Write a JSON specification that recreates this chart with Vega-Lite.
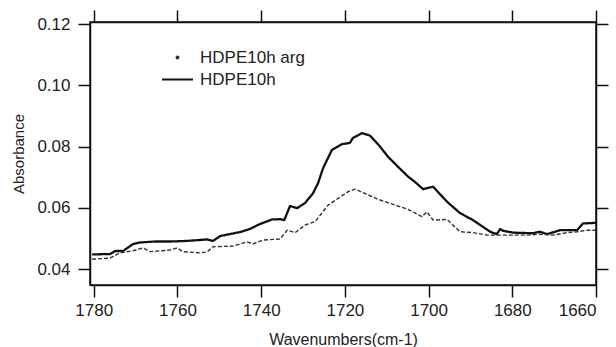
{
  "$schema": "https://vega.github.io/schema/vega-lite/v6.json",
  "width": 506,
  "height": 263,
  "autosize": {"type": "none"},
  "padding": {"left": 90, "top": 22, "right": 20, "bottom": 62},
  "background": "white",
  "config": {
    "view": {"stroke": "#111", "strokeWidth": 1.5},
    "font": "Liberation Sans",
    "axis": {
      "labelFont": "Liberation Sans",
      "titleFont": "Liberation Sans",
      "labelFontSize": 17,
      "titleFontSize": 16,
      "titleFontWeight": "normal",
      "labelColor": "#222",
      "titleColor": "#222",
      "domainColor": "#111",
      "tickColor": "#111",
      "domainWidth": 1.5,
      "tickWidth": 1.5,
      "tickSize": 12,
      "grid": false
    }
  },
  "data": {
    "values": [
      {"w": 1780.4, "a": 0.0448, "s": "HDPE10h"},
      {"w": 1776.1, "a": 0.0449, "s": "HDPE10h"},
      {"w": 1774.9, "a": 0.0459, "s": "HDPE10h"},
      {"w": 1773.0, "a": 0.0459, "s": "HDPE10h"},
      {"w": 1770.6, "a": 0.0482, "s": "HDPE10h"},
      {"w": 1768.9, "a": 0.0487, "s": "HDPE10h"},
      {"w": 1765.4, "a": 0.0490, "s": "HDPE10h"},
      {"w": 1761.8, "a": 0.0490, "s": "HDPE10h"},
      {"w": 1757.7, "a": 0.0492, "s": "HDPE10h"},
      {"w": 1754.6, "a": 0.0495, "s": "HDPE10h"},
      {"w": 1752.9, "a": 0.0497, "s": "HDPE10h"},
      {"w": 1751.5, "a": 0.0492, "s": "HDPE10h"},
      {"w": 1749.8, "a": 0.0508, "s": "HDPE10h"},
      {"w": 1745.0, "a": 0.0521, "s": "HDPE10h"},
      {"w": 1742.7, "a": 0.0531, "s": "HDPE10h"},
      {"w": 1740.3, "a": 0.0547, "s": "HDPE10h"},
      {"w": 1737.4, "a": 0.0562, "s": "HDPE10h"},
      {"w": 1735.5, "a": 0.0563, "s": "HDPE10h"},
      {"w": 1734.5, "a": 0.0560, "s": "HDPE10h"},
      {"w": 1733.1, "a": 0.0606, "s": "HDPE10h"},
      {"w": 1731.4, "a": 0.0599, "s": "HDPE10h"},
      {"w": 1729.5, "a": 0.0616, "s": "HDPE10h"},
      {"w": 1727.6, "a": 0.0648, "s": "HDPE10h"},
      {"w": 1726.4, "a": 0.0681, "s": "HDPE10h"},
      {"w": 1725.2, "a": 0.0730, "s": "HDPE10h"},
      {"w": 1723.1, "a": 0.0789, "s": "HDPE10h"},
      {"w": 1720.7, "a": 0.0808, "s": "HDPE10h"},
      {"w": 1718.8, "a": 0.0812, "s": "HDPE10h"},
      {"w": 1718.1, "a": 0.0828, "s": "HDPE10h"},
      {"w": 1715.9, "a": 0.0844, "s": "HDPE10h"},
      {"w": 1714.0, "a": 0.0836, "s": "HDPE10h"},
      {"w": 1711.6, "a": 0.0800, "s": "HDPE10h"},
      {"w": 1709.7, "a": 0.0767, "s": "HDPE10h"},
      {"w": 1707.3, "a": 0.0734, "s": "HDPE10h"},
      {"w": 1704.9, "a": 0.0702, "s": "HDPE10h"},
      {"w": 1703.2, "a": 0.0684, "s": "HDPE10h"},
      {"w": 1701.3, "a": 0.0661, "s": "HDPE10h"},
      {"w": 1698.9, "a": 0.0669, "s": "HDPE10h"},
      {"w": 1695.6, "a": 0.0620, "s": "HDPE10h"},
      {"w": 1692.5, "a": 0.0583, "s": "HDPE10h"},
      {"w": 1689.4, "a": 0.0560, "s": "HDPE10h"},
      {"w": 1685.3, "a": 0.0522, "s": "HDPE10h"},
      {"w": 1683.7, "a": 0.0514, "s": "HDPE10h"},
      {"w": 1682.9, "a": 0.0531, "s": "HDPE10h"},
      {"w": 1682.2, "a": 0.0525, "s": "HDPE10h"},
      {"w": 1679.8, "a": 0.0519, "s": "HDPE10h"},
      {"w": 1675.0, "a": 0.0517, "s": "HDPE10h"},
      {"w": 1673.4, "a": 0.0522, "s": "HDPE10h"},
      {"w": 1671.7, "a": 0.0514, "s": "HDPE10h"},
      {"w": 1668.6, "a": 0.0527, "s": "HDPE10h"},
      {"w": 1664.5, "a": 0.0527, "s": "HDPE10h"},
      {"w": 1663.1, "a": 0.0549, "s": "HDPE10h"},
      {"w": 1660.0, "a": 0.0551, "s": "HDPE10h"},
      {"w": 1780.4, "a": 0.0432, "s": "HDPE10h arg"},
      {"w": 1776.1, "a": 0.0436, "s": "HDPE10h arg"},
      {"w": 1773.7, "a": 0.0453, "s": "HDPE10h arg"},
      {"w": 1770.6, "a": 0.0460, "s": "HDPE10h arg"},
      {"w": 1768.2, "a": 0.0469, "s": "HDPE10h arg"},
      {"w": 1766.6, "a": 0.0457, "s": "HDPE10h arg"},
      {"w": 1761.8, "a": 0.0462, "s": "HDPE10h arg"},
      {"w": 1760.1, "a": 0.0469, "s": "HDPE10h arg"},
      {"w": 1758.7, "a": 0.0457, "s": "HDPE10h arg"},
      {"w": 1754.6, "a": 0.0453, "s": "HDPE10h arg"},
      {"w": 1752.9, "a": 0.0456, "s": "HDPE10h arg"},
      {"w": 1751.5, "a": 0.0473, "s": "HDPE10h arg"},
      {"w": 1746.7, "a": 0.0475, "s": "HDPE10h arg"},
      {"w": 1743.4, "a": 0.0489, "s": "HDPE10h arg"},
      {"w": 1742.0, "a": 0.0482, "s": "HDPE10h arg"},
      {"w": 1739.6, "a": 0.0495, "s": "HDPE10h arg"},
      {"w": 1735.5, "a": 0.0498, "s": "HDPE10h arg"},
      {"w": 1733.8, "a": 0.0527, "s": "HDPE10h arg"},
      {"w": 1731.9, "a": 0.0519, "s": "HDPE10h arg"},
      {"w": 1729.5, "a": 0.0544, "s": "HDPE10h arg"},
      {"w": 1727.1, "a": 0.0555, "s": "HDPE10h arg"},
      {"w": 1724.0, "a": 0.0609, "s": "HDPE10h arg"},
      {"w": 1721.6, "a": 0.0631, "s": "HDPE10h arg"},
      {"w": 1719.2, "a": 0.0653, "s": "HDPE10h arg"},
      {"w": 1717.6, "a": 0.0661, "s": "HDPE10h arg"},
      {"w": 1715.2, "a": 0.0647, "s": "HDPE10h arg"},
      {"w": 1712.1, "a": 0.0628, "s": "HDPE10h arg"},
      {"w": 1708.0, "a": 0.0609, "s": "HDPE10h arg"},
      {"w": 1704.9, "a": 0.0595, "s": "HDPE10h arg"},
      {"w": 1701.6, "a": 0.0571, "s": "HDPE10h arg"},
      {"w": 1700.4, "a": 0.0587, "s": "HDPE10h arg"},
      {"w": 1698.9, "a": 0.0560, "s": "HDPE10h arg"},
      {"w": 1695.6, "a": 0.0562, "s": "HDPE10h arg"},
      {"w": 1692.5, "a": 0.0522, "s": "HDPE10h arg"},
      {"w": 1689.4, "a": 0.0519, "s": "HDPE10h arg"},
      {"w": 1686.0, "a": 0.0511, "s": "HDPE10h arg"},
      {"w": 1682.9, "a": 0.0511, "s": "HDPE10h arg"},
      {"w": 1679.8, "a": 0.0511, "s": "HDPE10h arg"},
      {"w": 1676.5, "a": 0.0511, "s": "HDPE10h arg"},
      {"w": 1673.4, "a": 0.0514, "s": "HDPE10h arg"},
      {"w": 1670.3, "a": 0.0511, "s": "HDPE10h arg"},
      {"w": 1666.9, "a": 0.0519, "s": "HDPE10h arg"},
      {"w": 1664.5, "a": 0.0522, "s": "HDPE10h arg"},
      {"w": 1662.1, "a": 0.0527, "s": "HDPE10h arg"},
      {"w": 1660.0, "a": 0.0527, "s": "HDPE10h arg"}
    ]
  },
  "layer": [
    {
      "mark": {"type": "line", "strokeJoin": "round", "strokeCap": "butt"},
      "encoding": {
        "x": {
          "field": "w", "type": "quantitative",
          "scale": {"domain": [1660, 1780.9], "reverse": true, "nice": false, "zero": false},
          "axis": {
            "orient": "bottom",
            "values": [1780, 1760, 1740, 1720, 1700, 1680, 1660],
            "format": "d",
            "title": "Wavenumbers(cm-1)",
            "labelPadding": 5,
            "titleY": 59,
            "titleBaseline": "alphabetic"
          }
        },
        "y": {
          "field": "a", "type": "quantitative",
          "scale": {"domain": [0.0348, 0.1207], "nice": false, "zero": false},
          "axis": {
            "orient": "left",
            "values": [0.04, 0.06, 0.08, 0.10, 0.12],
            "format": ".2f",
            "title": "Absorbance",
            "labelPadding": 8,
            "titleFontSize": 15,
            "titleX": -72,
            "titleY": 131.5,
            "titleAngle": 270,
            "titleAlign": "center",
            "titleBaseline": "middle"
          }
        },
        "color": {
          "field": "s", "type": "nominal",
          "scale": {"domain": ["HDPE10h arg", "HDPE10h"], "range": ["#333", "#111"]},
          "legend": {
            "title": null,
            "orient": "none",
            "legendX": 79,
            "legendY": 27,
            "padding": 0,
            "rowPadding": 4,
            "symbolSize": 441,
            "symbolType": "stroke",
            "symbolStrokeWidth": 2,
            "labelFont": "Liberation Sans",
            "labelFontSize": 17,
            "labelColor": "#222",
            "labelOffset": 14,
            "encode": {
              "symbols": {
                "update": {
                  "shape": {"signal": "datum.value === 'HDPE10h' ? 'stroke' : 'circle'"},
                  "size": {"signal": "datum.value === 'HDPE10h' ? 961 : 4"},
                  "fill": {"signal": "datum.value === 'HDPE10h' ? 'transparent' : '#222'"},
                  "stroke": {"signal": "datum.value === 'HDPE10h' ? '#111' : 'transparent'"},
                  "strokeWidth": {"value": 2}
                }
              }
            }
          }
        },
        "strokeDash": {
          "condition": {"test": "datum.s === 'HDPE10h arg'", "value": [4, 2]},
          "value": [1, 0]
        },
        "strokeWidth": {
          "condition": {"test": "datum.s === 'HDPE10h arg'", "value": 1.4},
          "value": 2.3
        }
      }
    },
    {
      "mark": {"type": "line", "opacity": 0},
      "encoding": {
        "x": {
          "field": "w", "type": "quantitative",
          "axis": {
            "orient": "top",
            "values": [1780, 1760, 1740, 1720, 1700, 1680, 1660],
            "labels": false,
            "title": null
          }
        },
        "y": {
          "field": "a", "type": "quantitative",
          "axis": {
            "orient": "right",
            "values": [0.04, 0.06, 0.08, 0.10, 0.12],
            "labels": false,
            "title": null
          }
        },
        "detail": {"field": "s", "type": "nominal"}
      }
    }
  ],
  "resolve": {"axis": {"x": "independent", "y": "independent"}}
}
